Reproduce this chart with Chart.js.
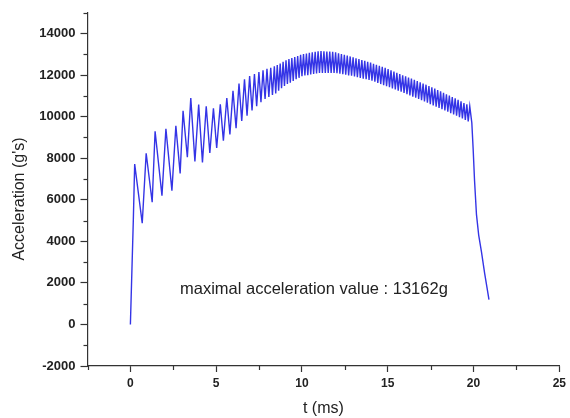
<!DOCTYPE html>
<html><head><meta charset="utf-8">
<script src="https://cdn.jsdelivr.net/npm/chart.js@4.4.0/dist/chart.umd.min.js"></script>
<style>html,body{margin:0;padding:0;background:#fff;}</style>
</head><body>
<canvas id="c" width="570" height="418"></canvas>
<script>
// time (ms)
const timeMs = [
 0, 0.17, 0.25, 0.69, 0.92, 1.27, 1.44, 1.84, 2.07, 2.42, 2.65, 2.9, 3.07, 3.32, 3.52, 3.76, 3.98, 4.2, 4.42, 4.63, 4.84, 5.03,
 5.24, 5.42, 5.62, 5.8, 5.98, 6.16, 6.33, 6.49, 6.65, 6.8, 6.95, 7.09, 7.23, 7.36, 7.49, 7.61, 7.73, 7.85, 7.96, 8.07, 8.18, 8.28,
 8.39, 8.47, 8.56, 8.64, 8.73, 8.81, 8.90, 8.98, 9.07, 9.15, 9.24, 9.32, 9.41, 9.49, 9.58, 9.66, 9.75, 9.83, 9.92, 10.00,
 10.09, 10.17, 10.26, 10.34, 10.43, 10.51, 10.60, 10.68, 10.77, 10.85, 10.94, 11.02, 11.11, 11.19, 11.28, 11.36, 11.45, 11.53,
 11.62, 11.70, 11.79, 11.87, 11.96, 12.04, 12.13, 12.21, 12.30, 12.38, 12.47, 12.55, 12.64, 12.72, 12.81, 12.89, 12.98, 13.06,
 13.15, 13.23, 13.32, 13.40, 13.49, 13.57, 13.66, 13.74, 13.83, 13.91, 14.00, 14.08, 14.17, 14.25, 14.34, 14.42, 14.51, 14.59,
 14.68, 14.76, 14.85, 14.93, 15.02, 15.10, 15.19, 15.27, 15.36, 15.44, 15.53, 15.61, 15.70, 15.78, 15.87, 15.95, 16.04, 16.12,
 16.21, 16.29, 16.38, 16.46, 16.55, 16.63, 16.72, 16.80, 16.89, 16.97, 17.06, 17.14, 17.23, 17.31, 17.40, 17.48, 17.57, 17.65,
 17.74, 17.82, 17.91, 17.99, 18.08, 18.16, 18.25, 18.33, 18.42, 18.50, 18.59, 18.67, 18.76, 18.84, 18.93, 19.01, 19.10, 19.18,
 19.27, 19.35, 19.44, 19.52, 19.61, 19.69, 19.78,
 19.9, 19.98, 20.06, 20.17, 20.3, 20.46, 20.65, 20.78, 20.9
];
// acceleration (g's)
const accel = [
 0, 5000, 7720, 4870, 8240, 5880, 9300, 6200, 9420, 6440, 9560, 7270, 10280, 8050, 10900, 7850, 10580, 7800, 10500, 8250, 10400, 8500,
 10600, 8850, 10900, 9150, 11250, 9450, 11600, 9800, 11800, 10050, 11950, 10300, 12050, 10500, 12150, 10700, 12230, 10850, 12300, 10950, 12350, 11050,
 12420, 11120, 12480, 11250, 12560, 11370, 12640, 11480, 12720, 11570, 12770, 11640, 12820, 11720, 12870, 11800, 12920, 11870, 12980, 11950,
 13010, 11980, 13040, 12000, 13070, 12030, 13100, 12060, 13120, 12080, 13150, 12100, 13162, 12100, 13150, 12100, 13140, 12100,
 13130, 12100, 13120, 12100, 13100, 12090, 13050, 12070, 13010, 12040, 12980, 12020, 12940, 11990, 12900, 11970, 12860, 11940,
 12810, 11900, 12770, 11870, 12730, 11830, 12690, 11800, 12640, 11770, 12600, 11730, 12550, 11680, 12500, 11620, 12450, 11570,
 12400, 11520, 12350, 11470, 12290, 11420, 12230, 11360, 12170, 11310, 12110, 11250, 12050, 11200, 11990, 11140, 11940, 11080,
 11880, 11020, 11830, 10960, 11770, 10910, 11710, 10850, 11660, 10790, 11600, 10730, 11540, 10670, 11470, 10600, 11410, 10540,
 11350, 10480, 11280, 10420, 11220, 10360, 11150, 10300, 11080, 10240, 11020, 10170, 10950, 10110, 10880, 10050, 10810, 9980,
 10740, 9910, 10660, 9840, 10590, 9770, 10500,
 9700, 8400, 6900, 5300, 4300, 3500, 2450, 1800, 1200
];
const xMajorTicks = [0, 5, 10, 15, 20, 25];
const xMinorTicks = [-2.5, 2.5, 7.5, 12.5, 17.5, 22.5];
const yMajorTicks = [-2000, 0, 2000, 4000, 6000, 8000, 10000, 12000, 14000];
const yMinorTicks = [-1000, 1000, 3000, 5000, 7000, 9000, 11000, 13000, 15000];
const xTitle = 't (ms)';
const yTitle = "Acceleration (g's)";
const annotationText = 'maximal acceleration value : 13162g';

const AX = '#333333';
const FONT = '"Liberation Sans", Arial, sans-serif';

const extras = {
  id: 'extras',
  afterDraw(chart) {
    const ctx = chart.ctx, xs = chart.scales.x, ys = chart.scales.y, a = chart.chartArea;
    ctx.save();
    ctx.strokeStyle = AX; ctx.lineWidth = 1.2;
    yMinorTicks.forEach(v => {
      const y = Math.round(ys.getPixelForValue(v)) + 0.5;
      ctx.beginPath(); ctx.moveTo(a.left - 4, y); ctx.lineTo(a.left, y); ctx.stroke();
    });
    xMinorTicks.forEach(v => {
      const x = Math.round(xs.getPixelForValue(v)) + 0.5;
      ctx.beginPath(); ctx.moveTo(x, a.bottom); ctx.lineTo(x, a.bottom + 4); ctx.stroke();
    });
    ctx.fillStyle = '#222';
    ctx.font = '16.5px ' + FONT;
    ctx.textAlign = 'left'; ctx.textBaseline = 'middle';
    ctx.fillText(annotationText, 180, 289);
    ctx.font = '16px ' + FONT;
    ctx.translate(20, 199);
    ctx.rotate(-Math.PI / 2);
    ctx.textAlign = 'center';
    ctx.fillText(yTitle, 0, 0);
    ctx.restore();
  }
};

new Chart(document.getElementById('c'), {
  type: 'line',
  data: {
    datasets: [{
      data: timeMs.map((t, i) => ({ x: t, y: accel[i] })),
      borderColor: '#3434e6',
      borderWidth: 1.4,
      pointRadius: 0,
      tension: 0,
      fill: false
    }]
  },
  options: {
    responsive: false,
    animation: false,
    devicePixelRatio: 1,
    layout: { padding: { top: 12, right: 7, left: 0, bottom: 0 } },
    plugins: { legend: { display: false }, tooltip: { enabled: false } },
    scales: {
      x: {
        type: 'linear', min: -2.5, max: 25,
        afterBuildTicks: s => { s.ticks = xMajorTicks.map(v => ({ value: v })); },
        afterFit: s => { s.height = 52; },
        grid: { drawOnChartArea: false, drawTicks: true, tickLength: 6, color: AX, tickWidth: 1.2 },
        border: { display: true, color: AX, width: 1.2 },
        ticks: { color: '#222', padding: 4, maxRotation: 0, autoSkip: false,
                 callback: v => String(v),
                 font: { family: FONT, size: 12, weight: 'bold' } },
        title: { display: true, text: xTitle, color: '#222', padding: { top: 2, bottom: 0 },
                 font: { family: FONT, size: 16 } }
      },
      y: {
        type: 'linear', min: -2000, max: 15000,
        afterBuildTicks: s => { s.ticks = yMajorTicks.map(v => ({ value: v })); },
        afterFit: s => { s.width = 87.5; },
        grid: { drawOnChartArea: false, drawTicks: true, tickLength: 7, color: AX, tickWidth: 1.2 },
        border: { display: true, color: AX, width: 1.2 },
        ticks: { color: '#222', padding: 5, autoSkip: false,
                 callback: v => String(v),
                 font: { family: FONT, size: 13, weight: 'bold' } }
      }
    }
  },
  plugins: [extras]
});
</script>
</body></html>
